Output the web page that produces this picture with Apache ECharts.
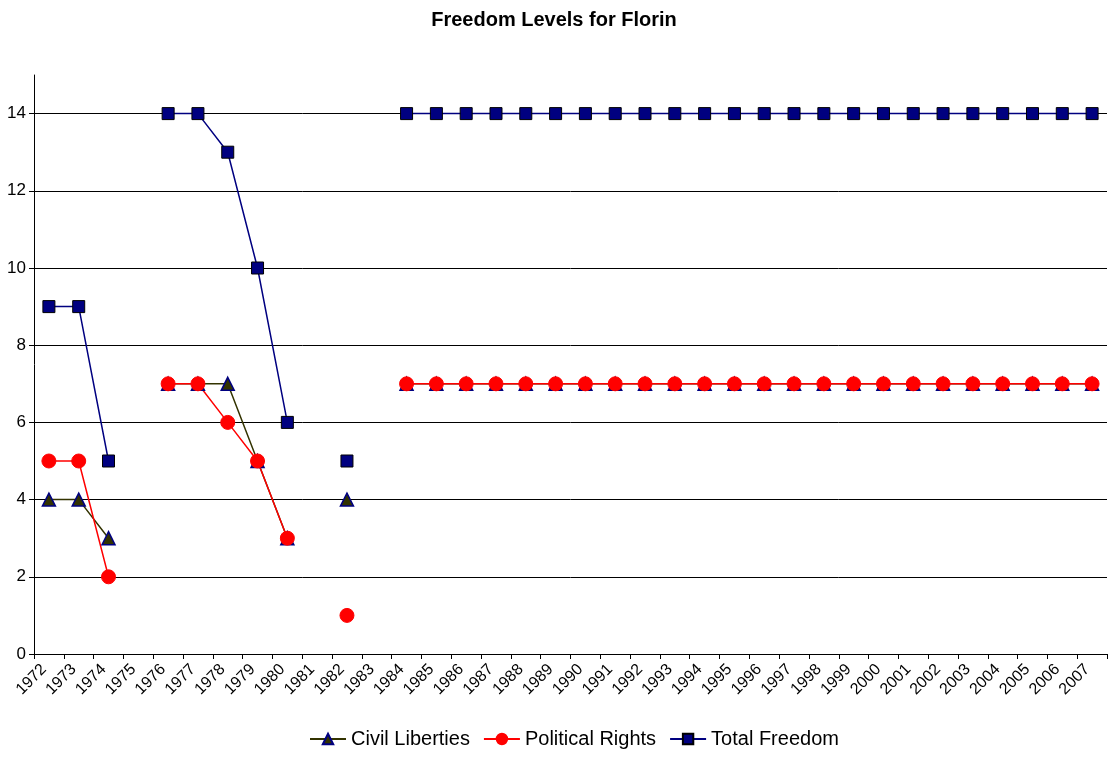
<!DOCTYPE html>
<html>
<head>
<meta charset="utf-8">
<script src="https://cdn.jsdelivr.net/npm/echarts@6/dist/echarts.min.js"></script>
<style>
  html,body{margin:0;padding:0;background:#fff;}
  #chart{width:1108px;height:759px;}
</style>
</head>
<body>
<div id="chart"></div>
<script>
// years on the x axis
const years = []
for (let y = 1972; y <= 2007; y++) years.push(String(y))

// values, '-' = no data
const civilLiberties = [4, 4, 3, '-', 7, 7, 7, 5, 3, '-', 4, '-',
  7, 7, 7, 7, 7, 7, 7, 7, 7, 7, 7, 7, 7, 7, 7, 7, 7, 7, 7, 7, 7, 7, 7, 7]
const politicalRights = [5, 5, 2, '-', 7, 7, 6, 5, 3, '-', 1, '-',
  7, 7, 7, 7, 7, 7, 7, 7, 7, 7, 7, 7, 7, 7, 7, 7, 7, 7, 7, 7, 7, 7, 7, 7]
const totalFreedom = [9, 9, 5, '-', 14, 14, 13, 10, 6, '-', 5, '-',
  14, 14, 14, 14, 14, 14, 14, 14, 14, 14, 14, 14, 14, 14, 14, 14, 14, 14, 14, 14, 14, 14, 14, 14]

const font = 'Arial, "Liberation Sans", sans-serif'

// grid lines at 0..14, none at the top (15)
const splitColors = ['#000', '#000', '#000', '#000', '#000', '#000', '#000', '#000', 'transparent']

const chart = echarts.init(document.getElementById('chart'))
chart.setOption({
  animation: false,
  textStyle: {fontFamily: font},
  title: {
    text: 'Freedom Levels for Florin',
    left: 'center',
    top: 5,
    textStyle: {fontSize: 20, fontWeight: 'bold', color: '#000', fontFamily: font}
  },
  legend: {
    bottom: 5,
    left: 304,
    itemWidth: 36,
    itemHeight: 13,
    itemGap: 13,
    textStyle: {fontSize: 20, color: '#000', fontFamily: font},
    data: ['Civil Liberties', 'Political Rights', 'Total Freedom']
  },
  grid: {left: 34, right: 1, top: 75, bottom: 105, containLabel: false},
  xAxis: {
    type: 'category',
    data: years,
    boundaryGap: true,
    axisLine: {lineStyle: {color: '#000', width: 1}},
    axisTick: {show: true, alignWithLabel: false, length: 5, lineStyle: {color: '#000'}},
    axisLabel: {rotate: 45, interval: 0, fontSize: 16, color: '#000', fontFamily: font, margin: 8, padding: [0, 7, 0, 0]}
  },
  yAxis: {
    type: 'value',
    min: 0,
    max: 15,
    interval: 2,
    axisLine: {show: true, lineStyle: {color: '#000', width: 1}},
    axisTick: {show: true, length: 5, lineStyle: {color: '#000'}},
    axisLabel: {fontSize: 17, color: '#000', fontFamily: font, margin: 8, showMaxLabel: false},
    splitLine: {show: true, lineStyle: {color: splitColors, width: 1}}
  },
  series: [
    {
      name: 'Civil Liberties',
      type: 'line',
      data: civilLiberties,
      connectNulls: false,
      symbol: 'triangle',
      symbolSize: 13,
      lineStyle: {color: '#333300', width: 1.5},
      itemStyle: {color: '#333300', borderColor: '#000080', borderWidth: 1.5}
    },
    {
      name: 'Political Rights',
      type: 'line',
      data: politicalRights,
      connectNulls: false,
      symbol: 'circle',
      symbolSize: 14,
      lineStyle: {color: '#ff0000', width: 1.5},
      itemStyle: {color: '#ff0000', borderColor: '#ff0000', borderWidth: 1}
    },
    {
      name: 'Total Freedom',
      type: 'line',
      data: totalFreedom,
      connectNulls: false,
      symbol: 'rect',
      symbolSize: 12,
      lineStyle: {color: '#000080', width: 1.5},
      itemStyle: {color: '#000080', borderColor: '#000', borderWidth: 1}
    }
  ]
})
</script>
</body>
</html>
